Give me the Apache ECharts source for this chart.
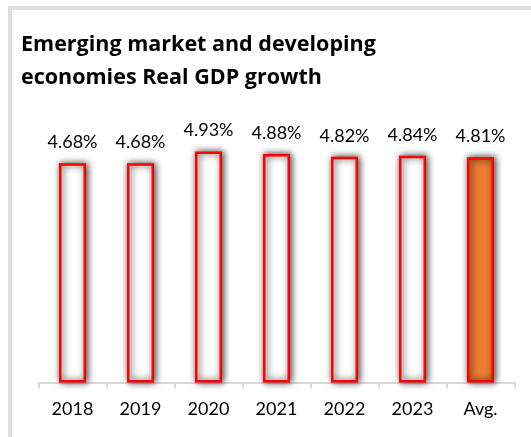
<!DOCTYPE html>
<html>
<head>
<meta charset="utf-8">
<script src="https://cdn.jsdelivr.net/npm/echarts@6/dist/echarts.min.js"></script>
<style>
  html, body { margin: 0; padding: 0; background: #fff; }
  #chart { position: absolute; left: 0; top: 0; width: 531px; height: 437px; }
  #frame {
    position: absolute; left: 8px; top: 6px; right: 0; bottom: 0;
    border-top: 4px solid #dedede; border-left: 4px solid #dedede;
    pointer-events: none;
  }
</style>
</head>
<body>
<div id="chart"></div>
<div id="frame"></div>
<script>
// Real GDP growth, emerging market and developing economies (%)
const categories = ['2018', '2019', '2020', '2021', '2022', '2023', 'Avg.'];
const growth = [4.68, 4.68, 4.93, 4.88, 4.82, 4.84, 4.81];
const averageIndex = 6;

const chart = echarts.init(document.getElementById('chart'), null, { renderer: 'canvas' });

const barData = growth.map((v, i) => ({
  value: v,
  itemStyle: { color: i === averageIndex ? '#ED7D31' : '#FFFFFF' }
}));

chart.setOption({
  animation: false,
  backgroundColor: '#ffffff',
  title: {
    text: 'Emerging market and developing\neconomies Real GDP growth',
    left: 21,
    top: 28,
    padding: 0,
    textStyle: {
      fontFamily: 'Open Sans',
      fontWeight: 'bold',
      fontSize: 21.5,
      lineHeight: 33,
      color: '#000000'
    }
  },
  grid: { left: 38.5, right: 16.5, top: 101.4, bottom: 54.4, containLabel: false },
  xAxis: {
    type: 'category',
    data: categories,
    boundaryGap: true,
    axisLine: { show: true, lineStyle: { color: '#d9d9d9', width: 2 } },
    axisTick: { show: true, length: 6, lineStyle: { color: '#d9d9d9', width: 2 } },
    axisLabel: {
      margin: 18,
      fontFamily: 'Lato',
      fontSize: 18,
      color: '#000000'
    }
  },
  yAxis: {
    type: 'value',
    min: 0,
    max: 6,
    show: false,
    splitLine: { show: false }
  },
  series: [{
    type: 'bar',
    data: barData,
    barWidth: 27,
    z: 1,
    itemStyle: {
      borderColor: '#FF0000',
      borderWidth: 2.5,
      shadowColor: 'rgba(0,0,0,0.85)',
      shadowBlur: 7,
      shadowOffsetX: 1.5,
      shadowOffsetY: 0
    },
    label: {
      show: true,
      position: 'top',
      distance: 12,
      fontFamily: 'Lato',
      fontSize: 18,
      color: '#000000',
      formatter: p => p.value.toFixed(2) + '%'
    }
  }]
});
</script>
</body>
</html>
